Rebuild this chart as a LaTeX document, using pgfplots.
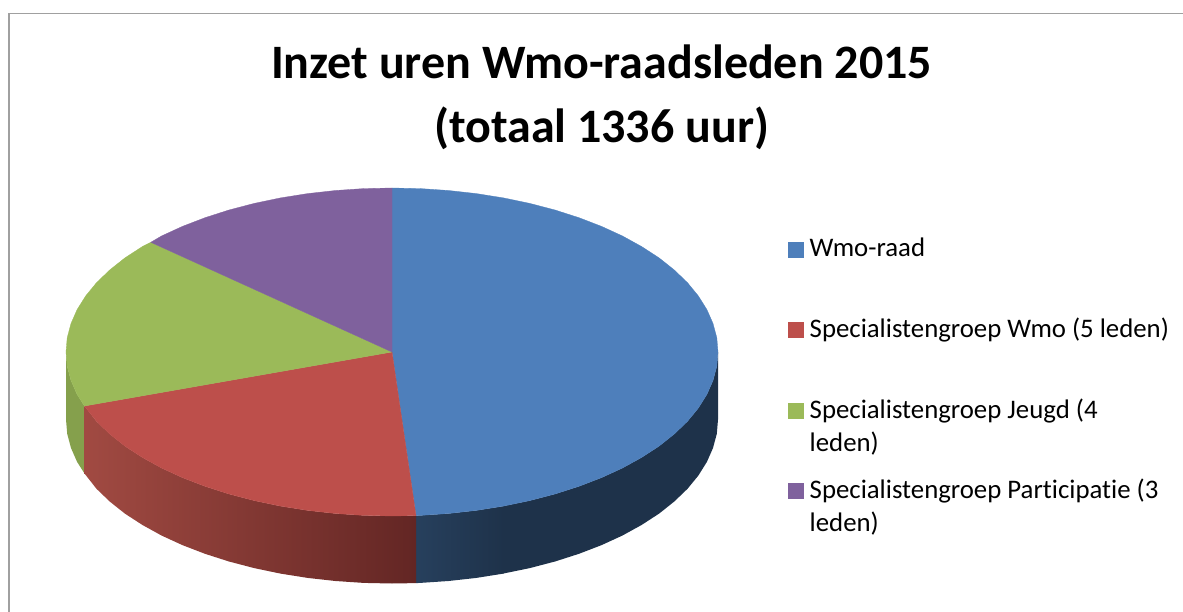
\documentclass[border=0pt]{standalone}
\usepackage{pgfplots}
\pgfplotsset{compat=1.18}
\usepackage{fontspec}
\setmainfont[Ligatures=NoCommon]{Carlito}
\definecolor{cblue}{HTML}{4E7FBB}
\definecolor{cred}{HTML}{BD4F4B}
\definecolor{cgreen}{HTML}{9BBA59}
\definecolor{cpurple}{HTML}{7F619D}
\definecolor{sgreen}{HTML}{85A04C}
\definecolor{sredL}{HTML}{A14A42}
\definecolor{sredM}{HTML}{8F3A37}
\definecolor{sredR}{HTML}{632624}
\definecolor{sblueL}{HTML}{27405D}
\definecolor{sblueR}{HTML}{1E324A}
\definecolor{frame}{HTML}{A0A0A0}
\begin{document}
\begin{tikzpicture}
\useasboundingbox (0,0) rectangle (1183pt,612pt);
\begin{axis}[
  at={(0,0)}, anchor=south west,
  width=1183pt, height=612pt, scale only axis,
  xmin=0, xmax=1183, ymin=0, ymax=612, y dir=reverse,
  hide axis,
]
% frame
\addplot[frame, line width=1.9pt, no marks, line join=miter] coordinates {(1190,13.5)(9,13.5)(9,620)};
% side: green
\addplot[draw=none, fill=sgreen, no marks] coordinates {
(84.5,406)(77.1,394.4)(71,380.5)(67.2,366.3)(66,352)
(66,419.5)(67.2,433.8)(71,448)(77.1,461.9)(84.5,473.5)(84.5,406)};
% side: blue, flat part
\addplot[draw=none, fill=sblueR, no marks] coordinates {
(718,352)(716.8,366.3)(713,380.5)(706.9,394.4)(698.3,408.1)(687.5,421.3)(674.3,434)(659.1,446.1)(641.7,457.4)(622.5,468)(601.6,477.6)(579,486.3)(555,494)(529.8,500.6)(503,506.1)
(503,573.6)(529.8,568.1)(555,561.5)(579,553.8)(601.6,545.1)(622.5,535.5)(641.7,524.9)(659.1,513.6)(674.3,501.5)(687.5,488.8)(698.3,475.6)(706.9,461.9)(713,448)(716.8,433.8)(718,419.5)(718,352)};
% side: blue, shaded part
\addplot[draw=none, left color=sblueL, right color=sblueR, no marks] coordinates {
(416,515.6)(420.4,515.4)(448.6,513.5)(476.4,510.4)(503.5,506.1)
(503.5,573.6)(476.4,577.9)(448.6,581)(420.4,582.9)(416,583.1)(416,515.6)};
% side: red
\addplot[draw=none, left color=sredL, middle color=sredM, right color=sredR, no marks] coordinates {
(416,515.6)(392,516)(363.6,515.4)(335.4,513.5)(307.6,510.4)(280.5,506.1)(254.2,500.6)(229,494)(205,486.3)(182.4,477.6)(161.5,468)(142.3,457.4)(124.9,446.1)(109.7,434)(96.5,421.3)(84.5,406)
(84.5,473.5)(96.5,488.8)(109.7,501.5)(124.9,513.6)(142.3,524.9)(161.5,535.5)(182.4,545.1)(205,553.8)(229,561.5)(254.2,568.1)(280.5,573.6)(307.6,577.9)(335.4,581)(363.6,582.9)(392,583.5)(416,583.1)(416,515.6)};
% top: blue
\addplot[draw=cblue, line width=0.3pt, fill=cblue, no marks] coordinates {
(392,352)(392,188)(420.4,188.6)(448.6,190.5)(476.4,193.6)(503.5,197.9)(529.8,203.4)(555,210)(579,217.7)(601.6,226.4)(622.5,236)(641.7,246.6)(659.1,257.9)(674.3,270)(687.5,282.7)(698.3,295.9)(706.9,309.6)(713,323.5)(716.8,337.7)(718,352)
(716.8,366.3)(713,380.5)(706.9,394.4)(698.3,408.1)(687.5,421.3)(674.3,434)(659.1,446.1)(641.7,457.4)(622.5,468)(601.6,477.6)(579,486.3)(555,494)(529.8,500.6)(503.5,506.1)(476.4,510.4)(448.6,513.5)(420.4,515.4)(416,515.6)(392,352)};
% top: red
\addplot[draw=cred, line width=0.3pt, fill=cred, no marks] coordinates {
(392,352)(416,515.6)(392,516)(363.6,515.4)(335.4,513.5)(307.6,510.4)(280.5,506.1)(254.2,500.6)(229,494)(205,486.3)(182.4,477.6)(161.5,468)(142.3,457.4)(124.9,446.1)(109.7,434)(96.5,421.3)(84.5,406)(392,352)};
% top: green
\addplot[draw=cgreen, line width=0.3pt, fill=cgreen, no marks] coordinates {
(392,352)(84.5,406)(77.1,394.4)(71,380.5)(67.2,366.3)(66,352)(67.2,337.7)(71,323.5)(77.1,309.6)(85.7,295.9)(96.5,282.7)(109.7,270)(124.9,257.9)(142.3,246.6)(150.8,242.3)(392,352)};
% top: purple
\addplot[draw=cpurple, line width=0.3pt, fill=cpurple, no marks] coordinates {
(392,352)(150.8,242.3)(161.5,236)(182.4,226.4)(205,217.7)(229,210)(254.2,203.4)(280.5,197.9)(307.6,193.6)(335.4,190.5)(363.6,188.6)(392,188)(392,352)};
% legend keys
\addplot[only marks, mark=square*, mark size=7.3pt, mark options={draw=cblue, fill=cblue, line width=0.3pt}] coordinates {(795.5,249.5)};
\addplot[only marks, mark=square*, mark size=7.3pt, mark options={draw=cred, fill=cred, line width=0.3pt}] coordinates {(795.5,329.5)};
\addplot[only marks, mark=square*, mark size=7.3pt, mark options={draw=cgreen, fill=cgreen, line width=0.3pt}] coordinates {(795.5,410.5)};
\addplot[only marks, mark=square*, mark size=7.3pt, mark options={draw=cpurple, fill=cpurple, line width=0.3pt}] coordinates {(795.5,490.5)};
% title
\node[anchor=base, inner sep=0pt, font=\fontsize{48}{58}\selectfont\bfseries] at (axis cs:601.5,79) {Inzet uren Wmo-raadsleden 2015};
\node[anchor=base, inner sep=0pt, font=\fontsize{48}{58}\selectfont\bfseries] at (axis cs:601.5,143) {(totaal 1336 uur)};
% legend text
\node[anchor=base west, inner sep=0pt, font=\fontsize{26.8}{32}\selectfont] at (axis cs:809.5,257) {Wmo-raad};
\node[anchor=base west, inner sep=0pt, font=\fontsize{26.8}{32}\selectfont] at (axis cs:809.5,337) {Specialistengroep Wmo (5 leden)};
\node[anchor=base west, inner sep=0pt, font=\fontsize{26.8}{32}\selectfont] at (axis cs:809.5,418) {Specialistengroep Jeugd (4};
\node[anchor=base west, inner sep=0pt, font=\fontsize{26.8}{32}\selectfont] at (axis cs:809.5,451) {leden)};
\node[anchor=base west, inner sep=0pt, font=\fontsize{26.8}{32}\selectfont] at (axis cs:809.5,498) {Specialistengroep Participatie (3};
\node[anchor=base west, inner sep=0pt, font=\fontsize{26.8}{32}\selectfont] at (axis cs:809.5,531) {leden)};
\end{axis}
\end{tikzpicture}
\end{document}
